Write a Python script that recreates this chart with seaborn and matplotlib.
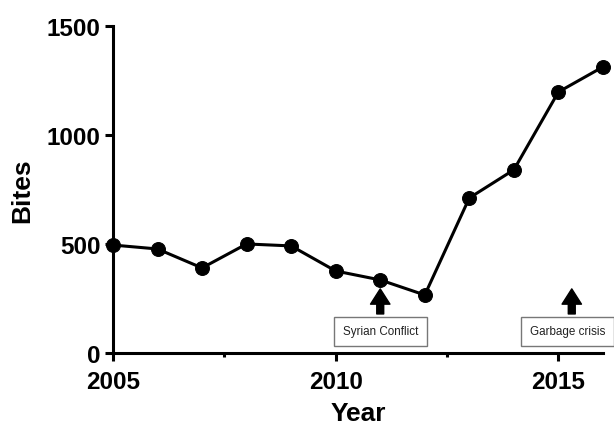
import pandas as pd
import matplotlib.pyplot as plt
import seaborn as sns
from matplotlib.ticker import MultipleLocator

years = [2005, 2006, 2007, 2008, 2009, 2010, 2011, 2012, 2013, 2014, 2015, 2016]
bites = [495, 477, 390, 500, 491, 376, 335, 266, 711, 840, 1197, 1312]
events = ["Syrian Conflict", "Garbage crisis"]
event_years = [2011, 2015.3]
box_years = [2011, 2015.2]

sns.set_style("ticks")
plt.rcParams['font.family'] = ['Liberation Sans', 'DejaVu Sans']

df = pd.DataFrame({'Year': years, 'Bites': bites})

fig = plt.figure(figsize=(6.14, 4.27), dpi=100)
ax = fig.add_axes([0.184, 0.171, 0.798, 0.766])
sns.lineplot(data=df, x='Year', y='Bites', ax=ax, color='black', linewidth=2.2,
             marker='o', markersize=10, markeredgecolor='black', clip_on=False)

ax.set_xlim(2005, 2016)
ax.set_ylim(0, 1500)
ax.xaxis.set_major_locator(MultipleLocator(5))
ax.xaxis.set_minor_locator(MultipleLocator(2.5))
ax.yaxis.set_major_locator(MultipleLocator(500))
sns.despine(ax=ax)
for s in ['left', 'bottom']:
    ax.spines[s].set_linewidth(2.2)
    ax.spines[s].set_color('black')
ax.tick_params(which='major', width=2.2, length=6, labelsize=17.5, pad=3,
               colors='black')
ax.tick_params(axis='x', which='major', pad=6)
ax.tick_params(which='minor', width=2.2, length=3, colors='black')
for lab in ax.get_xticklabels() + ax.get_yticklabels():
    lab.set_fontweight('bold')
ax.set_xlabel('Year', fontsize=19, fontweight='bold', labelpad=6, color='black')
ax.set_ylabel('Bites', fontsize=19, fontweight='bold', labelpad=9, color='black')

for name, yr, bx in zip(events, event_years, box_years):
    ax.annotate('', xy=(yr, 294), xytext=(yr, 179),
                arrowprops=dict(facecolor='black', edgecolor='black', width=5,
                                headwidth=14, headlength=11, shrink=0))
    ax.text(bx, 99, name, ha='center', va='center', fontsize=8.4,
            color='#222222',
            bbox=dict(boxstyle='square,pad=0.75', fc='white', ec='#777777', lw=1))

fig.savefig('out.png', dpi=100)
